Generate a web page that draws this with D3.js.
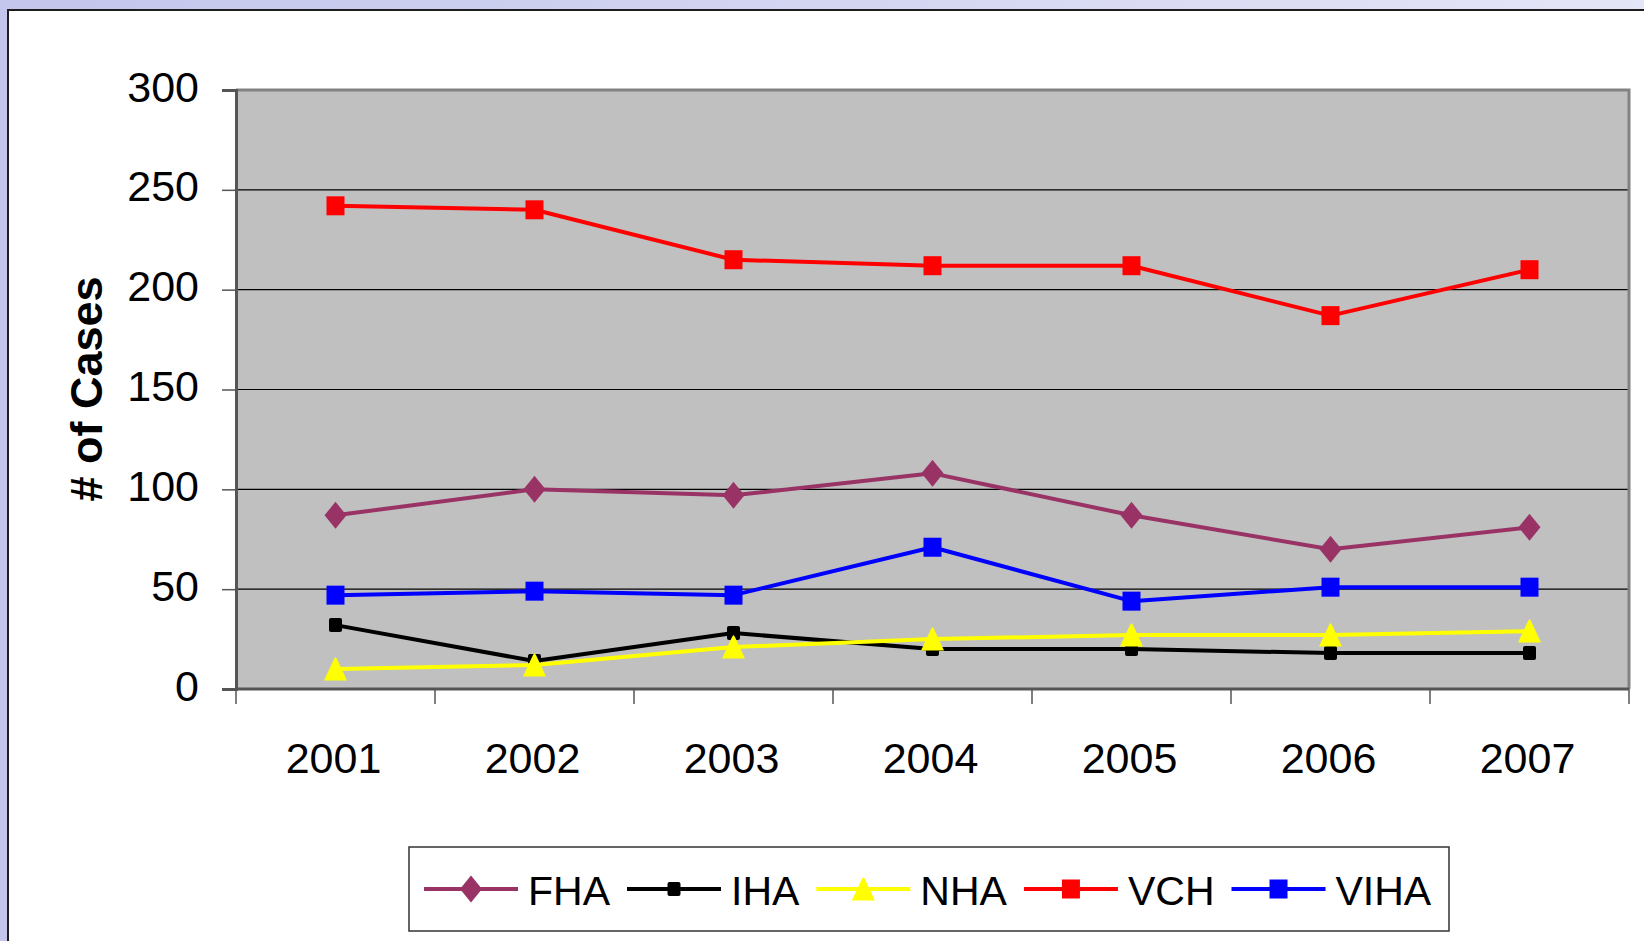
<!DOCTYPE html>
<html>
<head>
<meta charset="utf-8">
<script src="https://cdn.jsdelivr.net/npm/d3@7"></script>
<style>
  html, body { margin: 0; padding: 0; overflow: hidden; }
  text { font-family: "Liberation Sans", Arial, sans-serif; fill: #000; }
</style>
</head>
<body>
<div id="chart"></div>
<script>
// values
var years = ["2001", "2002", "2003", "2004", "2005", "2006", "2007"]
var fha  = [87, 100, 97, 108, 87, 70, 81]
var iha  = [32, 14, 28, 20, 20, 18, 18]
var nha  = [10, 12, 21, 25, 27, 27, 29]
var vch  = [242, 240, 215, 212, 212, 187, 210]
var viha = [47, 49, 47, 71, 44, 51, 51]
var yTicks = [0, 50, 100, 150, 200, 250, 300]

var seriesNames  = ["FHA", "IHA", "NHA", "VCH", "VIHA"]
var seriesValues = [fha, iha, nha, vch, viha]
var seriesColors = ["#993366", "#000000", "#FFFF00", "#FF0000", "#0000FF"]
var seriesShapes = ["diamond", "smallSquare", "triangle", "square", "square"]

var W = 1644, H = 941
var plot = { left: 236, top: 90, right: 1629, bottom: 689 }

var svg = d3.select("#chart").append("svg")
  .attr("width", W)
  .attr("height", H)

// slide-ish background
var defs = svg.append("defs")
var grad = defs.append("linearGradient").attr("id", "bg")
  .attr("x1", 0).attr("y1", 0).attr("x2", 1).attr("y2", 0)
grad.append("stop").attr("offset", "0%").attr("stop-color", "#c3c5ec")
grad.append("stop").attr("offset", "100%").attr("stop-color", "#e4e5f6")
svg.append("rect").attr("width", W).attr("height", H).attr("fill", "url(#bg)")

svg.append("rect")
  .attr("x", 8).attr("y", 10)
  .attr("width", W).attr("height", H)
  .attr("fill", "#fff")
  .attr("stroke", "#1e1e1e")
  .attr("stroke-width", 2)

var x = d3.scaleBand()
  .domain(years)
  .range([plot.left, plot.right])

var y = d3.scaleLinear()
  .domain([0, 300])
  .range([plot.bottom, plot.top])

// plot area
svg.append("rect")
  .attr("x", plot.left).attr("y", plot.top)
  .attr("width", plot.right - plot.left)
  .attr("height", plot.bottom - plot.top)
  .attr("fill", "#C0C0C0")

// gridlines
svg.append("g")
  .selectAll("line")
  .data(yTicks.filter(function(d) { return d > 0 && d < 300 }))
  .enter()
  .append("line")
  .attr("x1", plot.left).attr("x2", plot.right)
  .attr("y1", function(d) { return y(d) }).attr("y2", function(d) { return y(d) })
  .attr("stroke", "#000")
  .attr("stroke-width", 1.2)

// top / right border
svg.append("path")
  .attr("d", "M" + plot.left + "," + plot.top + "H" + plot.right + "V" + plot.bottom)
  .attr("fill", "none")
  .attr("stroke", "#828282")
  .attr("stroke-width", 3)

// y axis
var yAxis = svg.append("g")
  .attr("transform", "translate(" + plot.left + ",0)")
  .call(d3.axisLeft(y).tickValues(yTicks).tickSize(14).tickPadding(23))
yAxis.select(".domain").attr("stroke", "#555").attr("stroke-width", 3)
yAxis.selectAll(".tick line").attr("stroke", "#555").attr("stroke-width", 1.5)
yAxis.selectAll(".tick text")
  .attr("dy", "11px")
  .style("font-size", "43px")
  .style("font-family", "'Liberation Sans', Arial, sans-serif")
  .attr("fill", "#000")

// x axis: ticks sit on the category boundaries
var bounds = years.map(function(d) { return x(d) }).concat([plot.right])
var xAxis = svg.append("g")
xAxis.append("line")
  .attr("x1", plot.left).attr("x2", plot.right)
  .attr("y1", plot.bottom).attr("y2", plot.bottom)
  .attr("stroke", "#555").attr("stroke-width", 3)
xAxis.selectAll(".xt")
  .data(bounds)
  .enter()
  .append("line")
  .attr("x1", function(d) { return d }).attr("x2", function(d) { return d })
  .attr("y1", plot.bottom).attr("y2", plot.bottom + 15)
  .attr("stroke", "#555").attr("stroke-width", 1.5)
xAxis.selectAll("text")
  .data(years)
  .enter()
  .append("text")
  .attr("x", function(d) { return x(d) + x.bandwidth() / 2 - 2 })
  .attr("y", plot.bottom + 84)
  .attr("text-anchor", "middle")
  .style("font-size", "43px")
  .text(function(d) { return d })

// y title
svg.append("text")
  .attr("transform", "translate(102,389) rotate(-90)")
  .attr("text-anchor", "middle")
  .style("font-size", "45px")
  .style("font-weight", "bold")
  .text("# of Cases")

function drawMarker(sel, shape, color) {
  if (shape === "diamond") {
    sel.append("path").attr("d", "M0,-13.5L11,0L0,13.5L-11,0Z").attr("fill", color)
  } else if (shape === "triangle") {
    sel.append("path").attr("d", "M0,-12L1.5,-10L11.5,11.5L-11.5,11.5L-1.5,-10Z").attr("fill", color)
  } else if (shape === "smallSquare") {
    sel.append("rect").attr("x", -6.5).attr("y", -7).attr("width", 13).attr("height", 14)
      .attr("rx", 2).attr("fill", color)
  } else {
    sel.append("rect").attr("x", -9).attr("y", -9.5).attr("width", 18).attr("height", 19)
      .attr("fill", color)
  }
}

var line = d3.line()
  .x(function(d, i) { return x(years[i]) + x.bandwidth() / 2 })
  .y(function(d) { return y(d) })

seriesValues.forEach(function(vals, s) {
  var g = svg.append("g").attr("class", "series")
  g.append("path")
    .datum(vals)
    .attr("d", line)
    .attr("fill", "none")
    .attr("stroke", seriesColors[s])
    .attr("stroke-width", 4)
    .attr("stroke-linejoin", "round")
  g.selectAll(".pt")
    .data(vals)
    .enter()
    .append("g")
    .attr("class", "pt")
    .attr("transform", function(d, i) {
      return "translate(" + (x(years[i]) + x.bandwidth() / 2) + "," + y(d) + ")"
    })
    .each(function() { drawMarker(d3.select(this), seriesShapes[s], seriesColors[s]) })
})

// legend
var legend = svg.append("g")
legend.append("rect")
  .attr("x", 409).attr("y", 847)
  .attr("width", 1040).attr("height", 84)
  .attr("fill", "#fff")
  .attr("stroke", "#333")
  .attr("stroke-width", 1.5)

var lx = 424, ly = 889
seriesNames.forEach(function(name, s) {
  var item = legend.append("g").attr("transform", "translate(" + lx + "," + ly + ")")
  item.append("line")
    .attr("x1", 0).attr("x2", 94)
    .attr("stroke", seriesColors[s])
    .attr("stroke-width", 4)
  drawMarker(item.append("g").attr("transform", "translate(47,0)"), seriesShapes[s], seriesColors[s])
  var t = item.append("text")
    .attr("x", 104).attr("y", 16)
    .style("font-size", "41px")
    .text(name)
  lx += 104 + t.node().getComputedTextLength() + 17
})
</script>
</body>
</html>
